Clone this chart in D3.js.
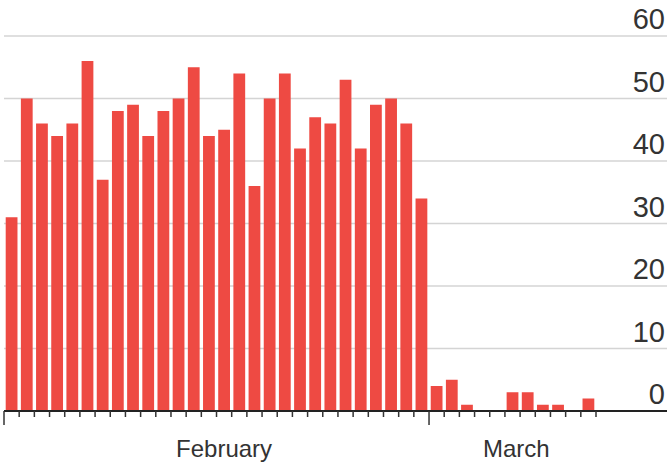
<!DOCTYPE html>
<html lang="en">
    <head>
        <style>
            body { margin: 0; background: #fff; }
            .bar { fill: #ee4a43; }
            .grid line { stroke: #d4d4d4; stroke-width: 1.5px; }
            .ylab { font-family: "Liberation Sans", Arial, sans-serif; font-size: 29px; fill: #333; }
            .xlab { font-family: "Liberation Sans", Arial, sans-serif; font-size: 24px; fill: #333; }
        </style>
        <script src="https://d3js.org/d3.v7.min.js"></script>
        <title>Daily counts</title>
    </head>
    <body>
        <div id="chart"></div>
        <script>
            // one bar per day, Feb 1 to Mar 11 2021
            var days = [
                "2021-02-01","2021-02-02","2021-02-03","2021-02-04","2021-02-05","2021-02-06","2021-02-07",
                "2021-02-08","2021-02-09","2021-02-10","2021-02-11","2021-02-12","2021-02-13","2021-02-14",
                "2021-02-15","2021-02-16","2021-02-17","2021-02-18","2021-02-19","2021-02-20","2021-02-21",
                "2021-02-22","2021-02-23","2021-02-24","2021-02-25","2021-02-26","2021-02-27","2021-02-28",
                "2021-03-01","2021-03-02","2021-03-03","2021-03-04","2021-03-05","2021-03-06","2021-03-07",
                "2021-03-08","2021-03-09","2021-03-10","2021-03-11"
            ];
            var counts = [
                31, 50, 46, 44, 46, 56, 37, 48, 49, 44, 48, 50, 55, 44,
                45, 54, 36, 50, 54, 42, 47, 46, 53, 42, 49, 50, 46, 34,
                4, 5, 1, 0, 0, 3, 3, 1, 1, 0, 2
            ];
            var yTicks = [0, 10, 20, 30, 40, 50, 60];
            var monthLabels = ["February", "March"];
            var monthLabelDates = ["2021-02-15T12:00", "2021-03-06T18:00"];

            var width = 667, height = 466;
            var parse = d3.utcParse("%Y-%m-%d");
            var parseLabel = function(s) { return d3.isoParse(s + ":00Z"); };

            var data = days.map(function(d, i) { return {date: parse(d), value: counts[i]}; });

            var svg = d3.select("#chart")
                .append("svg")
                    .attr("width", width)
                    .attr("height", height);

            var x = d3.scaleUtc()
                .domain([parse("2021-02-01"), parse("2021-03-12")])
                .range([4, 596]);

            var y = d3.scaleLinear()
                .domain([0, 60])
                .range([411, 36]);

            // gridlines
            svg.append("g")
                .attr("class", "grid")
                .selectAll("line")
                .data(yTicks.filter(function(d) { return d > 0; }))
                .enter().append("line")
                    .attr("x1", 4)
                    .attr("x2", width)
                    .attr("y1", function(d) { return y(d); })
                    .attr("y2", function(d) { return y(d); });

            svg.selectAll(".ylab")
                .data(yTicks)
                .enter().append("text")
                    .attr("class", "ylab")
                    .attr("x", 665)
                    .attr("y", function(d) { return y(d) - 7; })
                    .attr("text-anchor", "end")
                    .text(function(d) { return d; });

            // bars
            var pad = 1.7;
            svg.selectAll(".bar")
                .data(data.filter(function(d) { return d.value > 0; }))
                .enter().append("rect")
                    .attr("class", "bar")
                    .attr("x", function(d) { return x(d.date) + pad; })
                    .attr("width", function(d) { return x(d3.utcDay.offset(d.date, 1)) - x(d.date) - 2 * pad; })
                    .attr("y", function(d) { return y(d.value); })
                    .attr("height", function(d) { return y(0) - y(d.value); });

            // baseline and ticks
            svg.append("line")
                .attr("x1", 4)
                .attr("x2", width)
                .attr("y1", y(0))
                .attr("y2", y(0))
                .attr("stroke", "#222")
                .attr("stroke-width", 2);

            var tickDays = d3.utcDay.range(parse("2021-02-01"), parse("2021-03-13"));
            svg.selectAll(".tick")
                .data(tickDays)
                .enter().append("line")
                    .attr("class", "tick")
                    .attr("x1", function(d) { return x(d); })
                    .attr("x2", function(d) { return x(d); })
                    .attr("y1", y(0))
                    .attr("y2", function(d) { return y(0) + (d.getUTCDate() === 1 ? 14 : 6); })
                    .attr("stroke", "#333")
                    .attr("stroke-width", 1.5);

            svg.selectAll(".xlab")
                .data(monthLabels)
                .enter().append("text")
                    .attr("class", "xlab")
                    .attr("x", function(d, i) { return x(parseLabel(monthLabelDates[i])); })
                    .attr("y", 457)
                    .attr("text-anchor", "middle")
                    .text(function(d) { return d; });
        </script>
    </body>
</html>
